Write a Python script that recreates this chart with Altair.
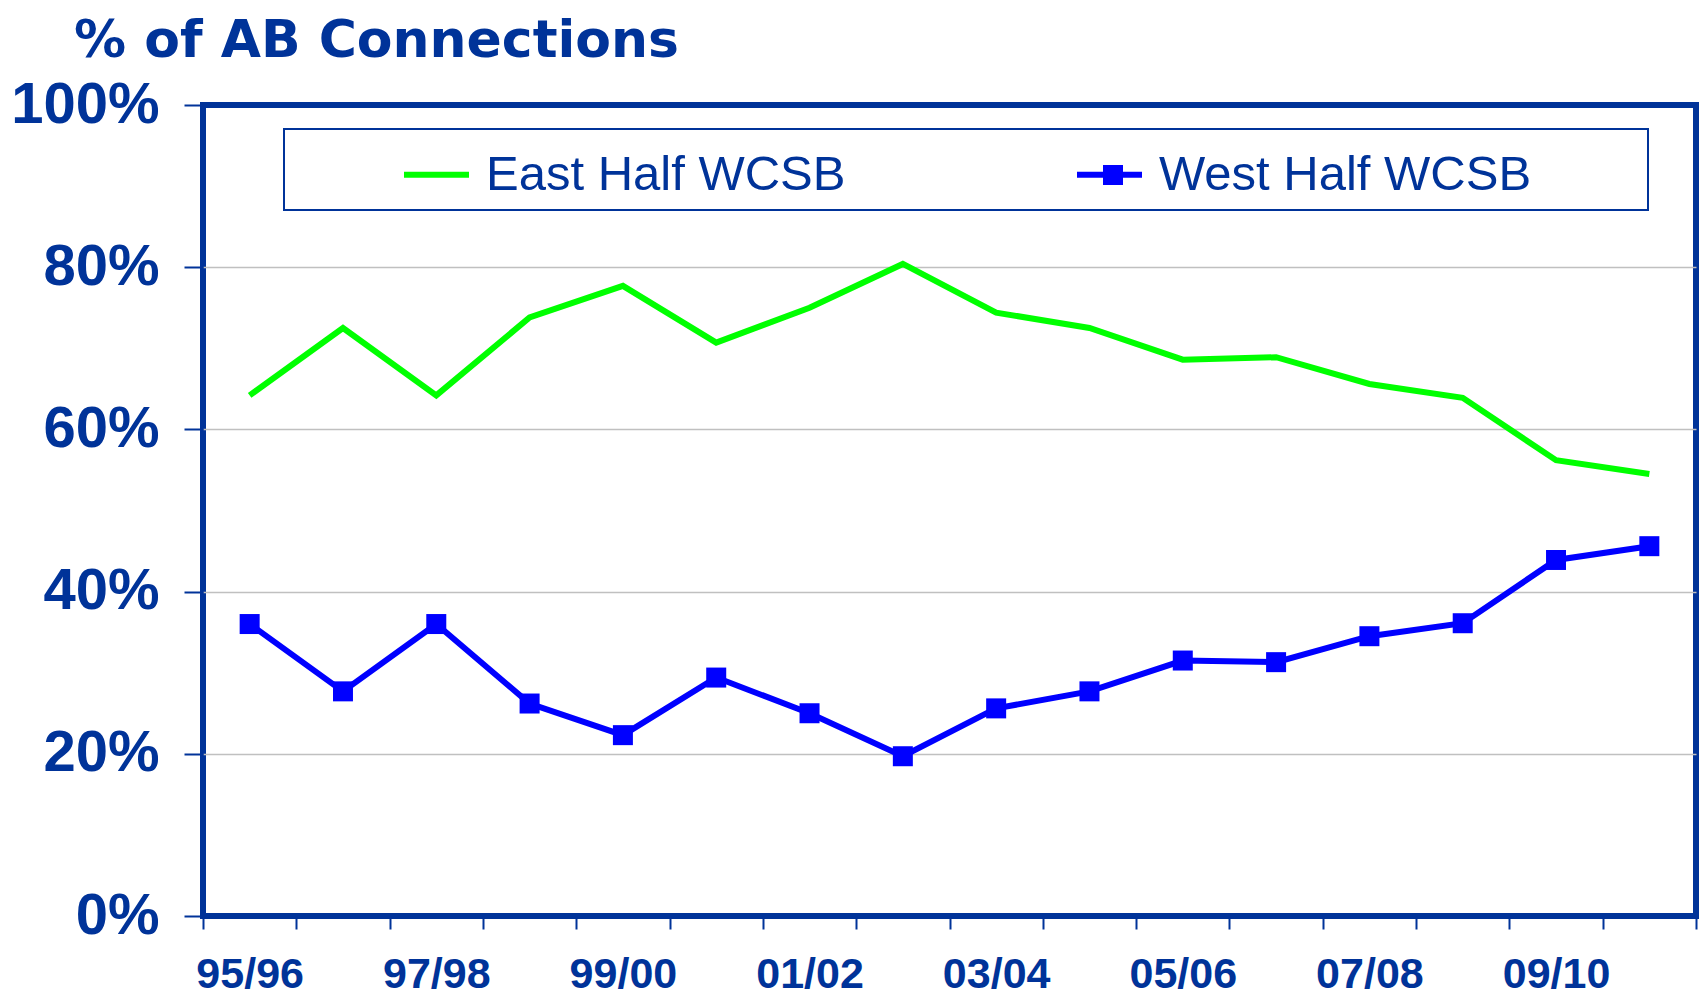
import json
import altair as alt
import pandas as pd

# ---- data ----
seasons = ["95/96", "96/97", "97/98", "98/99", "99/00", "00/01", "01/02", "02/03",
           "03/04", "04/05", "05/06", "06/07", "07/08", "08/09", "09/10", "10/11"]
east = [64.2, 72.5, 64.2, 73.8, 77.7, 70.7, 75.0, 80.4,
        74.4, 72.5, 68.6, 68.9, 65.6, 63.9, 56.2, 54.5]
west = [36.0, 27.7, 36.0, 26.2, 22.3, 29.4, 25.0, 19.7,
        25.6, 27.7, 31.5, 31.3, 34.5, 36.1, 43.9, 45.6]
series_names = ["East Half WCSB", "West Half WCSB"]
series_colors = ["#00FF00", "#0000FF"]
shown_labels = ["95/96", "97/98", "99/00", "01/02", "03/04", "05/06", "07/08", "09/10"]
y_ticks = [0, 20, 40, 60, 80, 100]
title_text = "% of AB Connections"

BLUE = "#003399"
FONT = "Liberation Sans"

df = pd.DataFrame({
    "season": seasons * 2,
    "series": [series_names[0]] * len(seasons) + [series_names[1]] * len(seasons),
    "pct": east + west,
    "idx": list(range(len(seasons))) * 2,
})

label_expr = "indexof(" + json.dumps(shown_labels) + ", datum.value) >= 0 ? datum.value : ''"

x_enc = alt.X(
    "season:O", sort=seasons, bandPosition=0.5,
    scale=alt.Scale(type="band", paddingInner=0, paddingOuter=0),
    axis=alt.Axis(title=None, tickBand="extent", labelExpr=label_expr, labelAngle=0,
                  tickSize=13, tickWidth=2, tickColor=BLUE, domain=False, grid=False,
                  labelFont=FONT, labelFontSize=43, labelFontWeight="bold",
                  labelColor=BLUE, labelPadding=24, labelOverlap=False),
)
y_enc = alt.Y(
    "pct:Q", scale=alt.Scale(domain=[0, 100], nice=False, zero=True),
    axis=alt.Axis(title=None, values=y_ticks, labelExpr="datum.value + '%'",
                  tickSize=19, tickWidth=2, tickColor=BLUE, domain=False,
                  labelFont=FONT, labelFontSize=58, labelFontWeight="bold",
                  labelColor=BLUE, labelPadding=25, labelFlush=False, labelOverlap=False,
                  grid=True, gridWidth=1.5,
                  gridColor={"condition": {"test": "datum.value === 0 || datum.value === 100",
                                           "value": "transparent"},
                             "value": "#C0C0C0"}),
)

lines = alt.Chart(df).mark_line(strokeWidth=6).encode(
    x=x_enc, y=y_enc,
    order=alt.Order("idx:Q"),
    color=alt.Color(
        "series:N",
        scale=alt.Scale(domain=series_names, range=series_colors),
        legend=alt.Legend(
            title=" ", titleOrient="right", titleFontSize=1, titlePadding=107,
            orient="none", legendX=81, legendY=24, direction="horizontal",
            strokeColor=BLUE, padding=10,
            symbolType="stroke", symbolSize=4225, symbolStrokeWidth=6,
            symbolOffset=107, labelOffset=14, columnPadding=121, labelLimit=0,
            labelFont=FONT, labelFontSize=49, labelColor=BLUE,
        ),
    ),
)

squares = alt.Chart(df).transform_filter(
    alt.datum.series == series_names[1]
).mark_square(size=400, opacity=1, strokeWidth=0).encode(
    x=x_enc, y=y_enc,
    fill=alt.Fill(
        "series:N",
        scale=alt.Scale(domain=[series_names[1]], range=[series_colors[1]]),
        legend=alt.Legend(
            orient="none", legendX=900, legendY=60, title=None,
            symbolType="square", symbolSize=400, symbolStrokeWidth=0, symbolOpacity=1,
            labelExpr="''", labelFontSize=1, padding=0,
        ),
    ),
)

chart = alt.layer(lines, squares).properties(
    width=1493, height=811,
    title=alt.TitleParams(text=title_text, anchor="start", frame="group",
                          font="DejaVu Sans", fontSize=52, fontWeight="bold",
                          color=BLUE, dx=-129, offset=8),
    autosize=alt.AutoSizeParams(type="none"),
    padding={"left": 195, "top": 97, "right": 3, "bottom": 79},
).configure_view(stroke=BLUE, strokeWidth=6).configure_legend(strokeWidth=2)

chart.save("out.html", embed_options={"renderer": "svg", "actions": False})
